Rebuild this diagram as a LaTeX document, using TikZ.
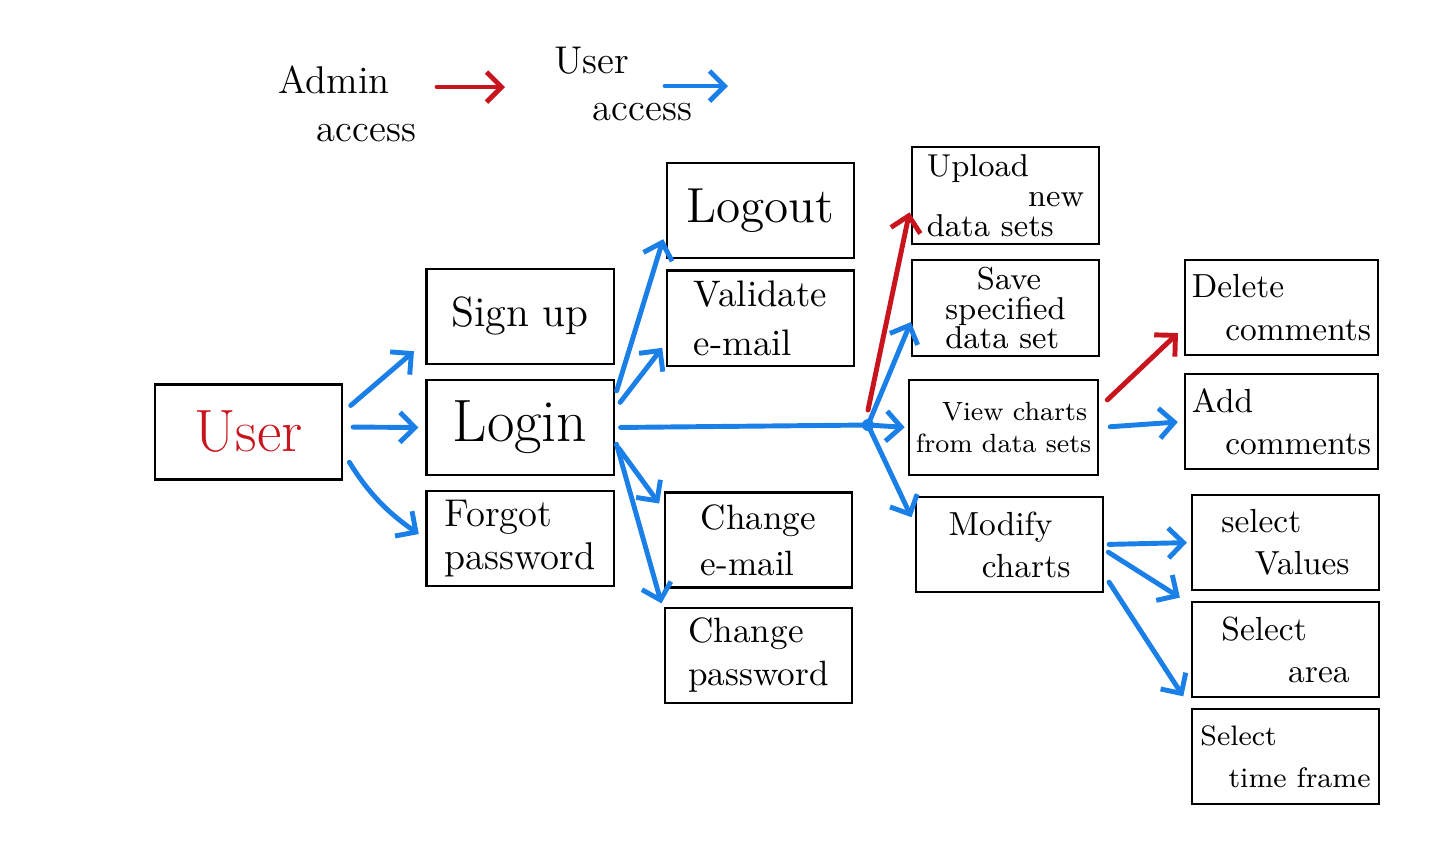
\documentclass[tikz,border=0pt]{standalone}
\usepackage{tikz}
\usetikzlibrary{positioning, arrows.meta}
\definecolor{userblue}{RGB}{26,127,230}
\definecolor{adminred}{RGB}{200,20,28}
\tikzset{
    >={Straight Barb[length=1.5mm, width=3mm]}, % open chevron heads like the sketch
    box/.style={draw, line width=0.6pt, minimum width=1.87cm, minimum height=0.95cm, inner sep=2pt, align=left}, % every screen box
    useraccess/.style={->, userblue, line width=1.4pt, line cap=round}, % blue arrows
    adminaccess/.style={->, adminred, line width=1.4pt, line cap=round}, % red arrows
}

\begin{document}
\begin{tikzpicture}[x=0.01cm, y=-0.01cm,
                    legendText/.style={align=left, font=\fontsize{11}{13.5}\selectfont},
                   ]
    \useasboundingbox (0,0) rectangle (1447,856);

    % legend
    \node[legendText] (adminlbl) at (347,104) {Admin\\\quad access};
    \node[legendText] (userlbl) at (623,84) {User\\\quad access};
    \coordinate (adminA) at (437,87);
    \coordinate (adminB) at (505,87);
    \coordinate (userA) at (665,86);
    \coordinate (userB) at (728,86);

    % first column
    \node[box, text=adminred, font=\fontsize{17}{20}\selectfont] (user) at (248.5,432) {User};
    \node[box, font=\fontsize{17}{20}\selectfont] (login) at (520,427.5) {Login};
    \node[box, above of=login, node distance=1.11cm, font=\fontsize{12}{14}\selectfont] (signup) {Sign up};
    \node[box, below of=login, node distance=1.11cm, font=\fontsize{11}{12}\selectfont] (forgot) {Forgot\\password};

    % account column
    \node[box, font=\fontsize{14}{16}\selectfont] (logout) at (760.5,210.5) {Logout};
    \node[box, below of=logout, node distance=1.075cm, font=\fontsize{10.5}{14}\selectfont] (validate) {Validate\\e-mail};
    \node[box, font=\fontsize{10}{13}\selectfont] (chemail) at (758.5,540) {Change\\e-mail};
    \node[box, below of=chemail, node distance=1.15cm, font=\fontsize{10}{12}\selectfont] (chpw) {Change\\password};

    % data column
    \node[box, font=\fontsize{9}{8.5}\selectfont] (upload) at (1005.5,195.5) {Upload\\\hspace*{3.2em}new\\data sets};
    \node[box, below of=upload, node distance=1.125cm, font=\fontsize{9}{8.5}\selectfont] (save) {\quad Save\\specified\\data set};
    \node[box, font=\fontsize{7.5}{9}\selectfont] (view) at (1003.5,427.5) {\quad View charts\\from data sets};
    \node[box, font=\fontsize{9.5}{12}\selectfont] (modify) at (1009.5,544.5) {Modify\\\quad charts};
    \node[circle, fill=userblue, inner sep=0pt, minimum size=0.12cm] (junc) at (868,425) {};

    % comment and selection column
    \node[box, font=\fontsize{9.5}{12}\selectfont] (delete) at (1281.5,307.5) {Delete\\\quad comments};
    \node[box, below of=delete, node distance=1.14cm, font=\fontsize{9.5}{12}\selectfont] (add) {Add\\\quad comments};
    \node[box, font=\fontsize{9.5}{12}\selectfont] (values) at (1285.5,542.5) {select\\\quad Values};
    \node[box, below of=values, node distance=1.07cm, font=\fontsize{9.5}{12}\selectfont] (area) {Select\\\qquad area};
    \node[box, below of=area, node distance=1.07cm, font=\fontsize{8}{12}\selectfont] (time) {Select\\\quad time frame};

    \draw[adminaccess] (adminA) -- (adminB);
    \draw[useraccess] (userA) -- (userB);

    \draw[useraccess, shorten <=1mm, shorten >=1.5mm] ([yshift=2mm]user.east) -- ([yshift=-2.5mm]signup.west);
    \draw[useraccess, shorten <=1mm, shorten >=0.7mm] ([yshift=0.5mm]user.east) -- (login.west);
    \draw[useraccess, shorten <=1.2mm, shorten >=0.8mm] ([yshift=-2mm]user.east) to[bend right=12] (forgot.west);

    \draw[useraccess, shorten <=0.7mm, shorten >=0.9mm] ([yshift=3mm]login.east) -- ([yshift=-2mm]logout.west);
    \draw[useraccess, shorten <=0.9mm, shorten >=0.6mm] ([yshift=1.8mm]login.east) -- ([yshift=-2.5mm]validate.west);
    \draw[useraccess, shorten <=0.7mm, shorten >=0.8mm] ([yshift=-1.5mm]login.east) -- ([yshift=3mm]chemail.west);
    \draw[useraccess, shorten <=0.7mm, shorten >=0.9mm] ([yshift=-1mm]login.east) -- ([yshift=4.3mm]chpw.west);
    \draw[userblue, line width=1.4pt, line cap=round, shorten <=0.6mm] (login.east) -- (junc.center);

    \draw[adminaccess, shorten >=0.7mm] ([yshift=1.5mm]junc.center) -- ([yshift=-1mm]upload.west);
    \draw[useraccess] (junc.center) -- ([yshift=-1.4mm]save.west);
    \draw[useraccess, shorten >=0.3mm] (junc.center) -- (view.west);
    \draw[useraccess, shorten >=0.8mm] (junc.center) -- ([yshift=2mm]modify.west);

    \draw[adminaccess, shorten <=1.1mm, shorten >=0.8mm] ([yshift=2mm]view.east) -- ([yshift=-2mm]delete.west);
    \draw[useraccess, shorten <=1.1mm, shorten >=0.6mm] (view.east) -- (add.west);
    \draw[useraccess, shorten <=0.5mm, shorten >=0.4mm] (modify.east) -- (values.west);
    \draw[useraccess, shorten <=0.5mm, shorten >=1.3mm] ([yshift=-0.5mm]modify.east) -- ([yshift=4.5mm]area.west);
    \draw[useraccess, shorten <=0.9mm, shorten >=1.4mm] ([yshift=-3mm]modify.east) -- (time.north west);
\end{tikzpicture}
\end{document}
